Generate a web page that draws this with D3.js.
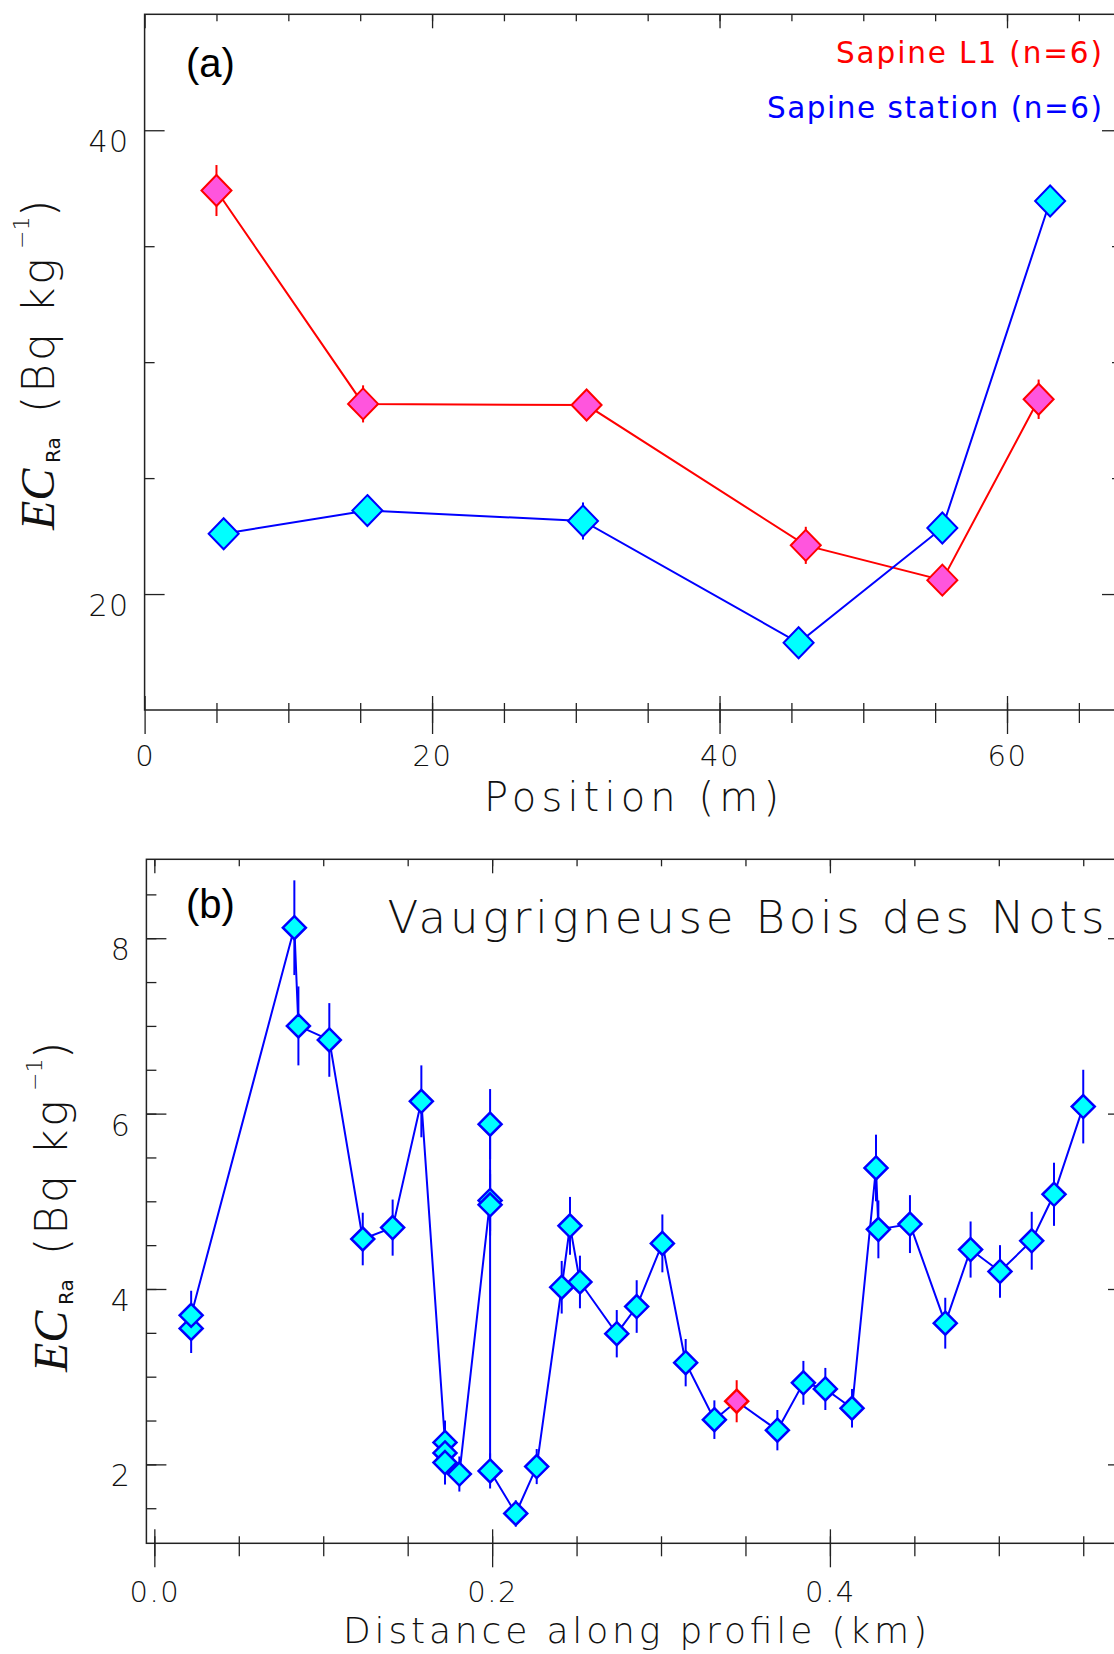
<!DOCTYPE html>
<html><head><meta charset="utf-8">
<script src="https://cdn.jsdelivr.net/npm/d3@7"></script>
<style>body{margin:0;background:#fff}</style>
</head><body>
<svg id="c" width="1114" height="1654" xmlns="http://www.w3.org/2000/svg"></svg>
<script>
// ---------------- data ----------------
// Panel (a): Sapine
const aPositionL1 = [5.0, 15.2, 30.75, 46.0, 55.5, 62.2];
const aEcL1       = [37.4, 28.2, 28.15, 22.1, 20.6, 28.4];
const aErrL1      = [1.1, 0.8, 0.5, 0.8, 0.5, 0.85];
const aPositionStation = [5.5, 15.5, 30.5, 45.5, 55.5, 63.0];
const aEcStation       = [22.6, 23.6, 23.15, 17.9, 22.85, 36.95];
const aErrStation      = [0.4, 0.4, 0.8, 0.4, 0.5, 0.4];
const aLegend = ["Sapine L1 (n=6)", "Sapine station (n=6)"];
const aXTicks = [0, 20, 40, 60];
const aYTicks = [20, 40];

// Panel (b): Vaugrigneuse Bois des Nots
const bDistance = [0.0218, 0.0218, 0.0829, 0.0853, 0.1036, 0.1234, 0.1411, 0.1581,
  0.1721, 0.1721, 0.1721, 0.1806, 0.1988, 0.1988, 0.1988, 0.1988, 0.2140, 0.2264,
  0.2412, 0.2461, 0.2520, 0.2738, 0.2856, 0.3008, 0.3146, 0.3316, 0.3448, 0.3689,
  0.3843, 0.3973, 0.4131, 0.4273, 0.4287, 0.4474, 0.4683, 0.4833, 0.5007, 0.5195,
  0.5327, 0.5500];
const bEc = [3.55, 3.70, 8.12, 7.00, 6.84, 4.57, 4.70, 6.14,
  2.25, 2.13, 2.02, 1.89, 5.01, 4.96, 5.88, 1.925, 1.44, 1.975,
  4.02, 4.72, 4.08, 3.49, 3.80, 4.52, 3.16, 2.51, 2.72, 2.39,
  2.93, 2.86, 2.64, 5.38, 4.68, 4.74, 3.61, 4.45, 4.20, 4.55,
  5.08, 6.08];
const bErr = [0.28, 0.28, 0.54, 0.45, 0.42, 0.30, 0.32, 0.41,
  0.25, 0.25, 0.25, 0.20, 0.35, 0.35, 0.40, 0.20, 0.15, 0.20,
  0.30, 0.33, 0.30, 0.27, 0.30, 0.33, 0.27, 0.22, 0.24, 0.23,
  0.25, 0.24, 0.22, 0.38, 0.33, 0.33, 0.29, 0.32, 0.30, 0.33,
  0.36, 0.42];
const bSample = bEc.map((_, i) => i === 26 ? "reference" : "profile");
const bTitle = "Vaugrigneuse Bois des Nots";
const bXTicks = [0.0, 0.2, 0.4];
const bYTicks = [2, 4, 6, 8];

// ---------------- styling ----------------
const THIN = "'DejaVu Sans', 'Open Sans', sans-serif";
const THIN_W = 200;
const RED = "#ff0000", PINK = "#ff55dd", BLUE = "#0000ff", CYAN = "#00ffff";

const svg = d3.select("#c");
svg.append("rect").attr("width", 1114).attr("height", 1654).attr("fill", "#fff");

function diamond(w, h) { return `M0,${-h}L${w},0L0,${h}L${-w},0Z`; }

function axes(g, x, y, o) {
  const [xl, xr] = x.range(), [yb, yt] = y.range();
  const clean = s => { s.select(".domain").remove(); s.selectAll("line").attr("stroke", "#222").attr("stroke-width", 1.3); };
  const none = () => "";
  g.append("rect").attr("x", xl).attr("y", yt).attr("width", xr - xl).attr("height", yb - yt)
    .attr("fill", "none").attr("stroke", "#222").attr("stroke-width", 1.5);
  g.append("g").attr("transform", `translate(0,${yt})`).call(d3.axisTop(x).tickValues(o.xMinor).tickSize(-7).tickFormat(none)).call(clean);
  g.append("g").attr("transform", `translate(0,${yt})`).call(d3.axisTop(x).tickValues(o.xMajor).tickSize(-14).tickFormat(none)).call(clean);
  g.append("g").attr("transform", `translate(0,${yb})`).call(d3.axisTop(x).tickValues(o.xMinor).tickSize(7).tickFormat(none)).call(clean);
  g.append("g").attr("transform", `translate(0,${yb})`).call(d3.axisBottom(x).tickValues(o.xMinor).tickSize(13).tickFormat(none)).call(clean);
  g.append("g").attr("transform", `translate(0,${yb})`).call(d3.axisTop(x).tickValues(o.xMajor).tickSize(14).tickFormat(none)).call(clean);
  const bx = g.append("g").attr("transform", `translate(0,${yb})`)
    .call(d3.axisBottom(x).tickValues(o.xMajor).tickSize(24).tickFormat(o.xFmt)).call(clean);
  bx.selectAll("text").attr("y", o.xLabelY).attr("dy", 0).attr("font-family", THIN).attr("font-weight", THIN_W)
    .attr("font-size", 29).attr("letter-spacing", 1.5).attr("fill", "#111");
  g.append("g").attr("transform", `translate(${xl},0)`).call(d3.axisLeft(y).tickValues(o.yMinor).tickSize(-10).tickFormat(none)).call(clean);
  const ly = g.append("g").attr("transform", `translate(${xl},0)`)
    .call(d3.axisLeft(y).tickValues(o.yMajor).tickSize(-20).tickPadding(15)).call(clean);
  ly.selectAll("text").attr("y", 21.5).attr("dy", 0).attr("font-family", THIN).attr("font-weight", THIN_W)
    .attr("font-size", 30).attr("letter-spacing", 1.5).attr("fill", "#111");
  g.append("g").attr("transform", `translate(${xr},0)`).call(d3.axisRight(y).tickValues(o.yMinor).tickSize(-10).tickFormat(none)).call(clean);
  g.append("g").attr("transform", `translate(${xr},0)`).call(d3.axisRight(y).tickValues(o.yMajor).tickSize(-20).tickFormat(none)).call(clean);
}

function yLabel(g, bx, startY) {
  const t = g.append("text").attr("transform", `translate(${bx},${startY}) rotate(-90)`).attr("fill", "#111");
  t.append("tspan").attr("x", 0).attr("y", 0).attr("font-family", "'Liberation Serif', serif").attr("font-style", "italic")
    .attr("font-size", 48).text("EC");
  t.append("tspan").attr("x", 67).attr("y", 6).attr("font-family", THIN).attr("font-size", 20).text("Ra");
  t.append("tspan").attr("x", 117).attr("y", 0).attr("font-family", THIN).attr("font-weight", THIN_W)
    .attr("font-size", 44).attr("letter-spacing", 3).text("(Bq kg");
  t.append("tspan").attr("x", 281).attr("y", -25).attr("font-family", THIN).attr("font-weight", THIN_W)
    .attr("font-size", 22).text("\u22121");
  t.append("tspan").attr("x", 313).attr("y", 0).attr("font-family", THIN).attr("font-weight", THIN_W)
    .attr("font-size", 44).text(")");
}

function series(g, x, y, xs, ys, es, stroke, fill, w, h, sw, types) {
  const idx = d3.range(xs.length);
  g.append("path").datum(idx).attr("fill", "none").attr("stroke", stroke).attr("stroke-width", 2)
    .attr("d", d3.line().x(i => x(xs[i])).y(i => y(ys[i])));
  const col = i => (types && types[i] === "reference") ? RED : stroke;
  const fil = i => (types && types[i] === "reference") ? PINK : fill;
  g.selectAll(null).data(idx).join("line")
    .attr("x1", i => x(xs[i])).attr("x2", i => x(xs[i]))
    .attr("y1", i => y(ys[i] - es[i])).attr("y2", i => y(ys[i] + es[i]))
    .attr("stroke", col).attr("stroke-width", 2);
  g.selectAll(null).data(idx).join("path")
    .attr("transform", i => `translate(${x(xs[i])},${y(ys[i])})`)
    .attr("d", diamond(w, h)).attr("fill", fil).attr("stroke", col).attr("stroke-width", sw);
}

// ---------------- panel (a) ----------------
{
  const x = d3.scaleLinear().domain([0, 68]).range([144.6, 1122]);
  const y = d3.scaleLinear().domain([15, 45]).range([710, 14.3]);
  const g = svg.append("g");
  axes(g, x, y, {
    xMajor: aXTicks, xMinor: d3.range(5, 68, 5), xFmt: d3.format("d"), xLabelY: 56,
    yMajor: aYTicks, yMinor: [25, 30, 35]
  });
  series(g, x, y, aPositionL1, aEcL1, aErrL1, RED, PINK, 15, 15.5, 2);
  series(g, x, y, aPositionStation, aEcStation, aErrStation, BLUE, CYAN, 15, 15.5, 2);
  g.append("text").attr("x", 186).attr("y", 77).attr("font-family", "'Liberation Sans', Arial, sans-serif")
    .attr("font-size", 40).attr("fill", "#000").text("(a)");
  g.append("text").attr("x", 836).attr("y", 63).attr("font-family", THIN).attr("font-size", 29.5)
    .attr("textLength", 266).attr("lengthAdjust", "spacing").attr("fill", RED).text(aLegend[0]);
  g.append("text").attr("x", 767).attr("y", 118).attr("font-family", THIN).attr("font-size", 29.5)
    .attr("textLength", 335).attr("lengthAdjust", "spacing").attr("fill", BLUE).text(aLegend[1]);
  g.append("text").attr("x", 484).attr("y", 811).attr("font-family", THIN).attr("font-weight", THIN_W)
    .attr("font-size", 40).attr("textLength", 295).attr("lengthAdjust", "spacing").attr("fill", "#111").text("Position (m)");
  yLabel(g, 54, 530);
}

// ---------------- panel (b) ----------------
{
  const x = d3.scaleLinear().domain([-0.0047, 0.5765]).range([146.4, 1128]);
  const y = d3.scaleLinear().domain([1.1, 8.9]).range([1543.3, 859.3]);
  const g = svg.append("g");
  axes(g, x, y, {
    xMajor: bXTicks, xMinor: d3.range(0, 0.58, 0.05), xFmt: d3.format(".1f"), xLabelY: 59,
    yMajor: bYTicks, yMinor: d3.range(1.5, 8.9, 0.5)
  });
  series(g, x, y, bDistance, bEc, bErr, BLUE, CYAN, 11.5, 11.5, 2.5, bSample);
  g.append("text").attr("x", 186).attr("y", 918).attr("font-family", "'Liberation Sans', Arial, sans-serif")
    .attr("font-size", 40).attr("fill", "#000").text("(b)");
  g.append("text").attr("x", 387.5).attr("y", 933).attr("font-family", THIN).attr("font-weight", THIN_W)
    .attr("font-size", 45).attr("textLength", 717).attr("lengthAdjust", "spacing").attr("fill", "#111").text(bTitle);
  g.append("text").attr("x", 343).attr("y", 1643).attr("font-family", THIN).attr("font-weight", THIN_W)
    .attr("font-size", 36).attr("textLength", 584).attr("lengthAdjust", "spacing").attr("fill", "#111").text("Distance along profile (km)");
  yLabel(g, 67, 1372);
}
</script>
</body></html>
